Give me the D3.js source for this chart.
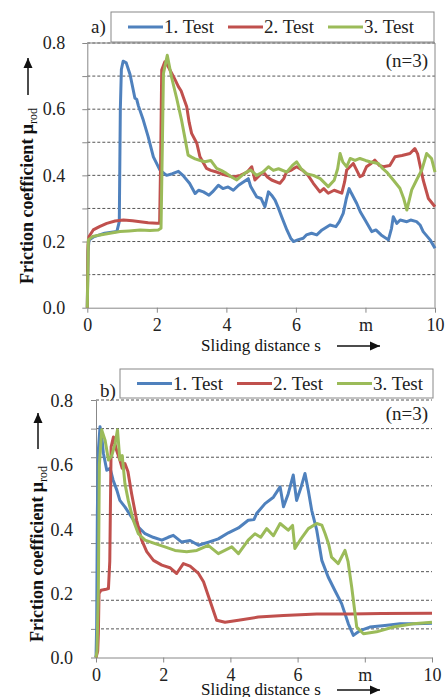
<!DOCTYPE html>
<html>
<head>
<meta charset="utf-8">
<script src="https://cdnjs.cloudflare.com/ajax/libs/d3/7.8.5/d3.min.js"></script>
</head>
<body style="margin:0">
<svg id="c" width="447" height="697" style="font-family:'Liberation Serif'"></svg>
<script>
// tick values / labels
var xTicks = [0, 2, 4, 6, 8, 10];
var xTickLabels = ["0", "2", "4", "6", "m", "10"];
var yLabelTicks = [0, 0.2, 0.4, 0.6, 0.8];
var gridTicksA = [0.1, 0.2, 0.3, 0.4, 0.5, 0.6, 0.7, 0.8];
var gridTicksB = [0.1, 0.2, 0.3, 0.4, 0.5, 0.6, 0.7, 0.8, 0.9];
var seriesNames = ["1. Test", "2. Test", "3. Test"];
var seriesColors = ["#4f81bd", "#c0504d", "#9bbb59"];

// panel a) [sliding distance m, friction coefficient]
var aTest1 = [[0,0],[0.02,0.17],[0.05,0.205],[0.2,0.215],[0.5,0.225],[0.85,0.23],[0.92,0.26],[0.95,0.6],[0.98,0.72],[1.03,0.745],[1.12,0.74],[1.23,0.705],[1.37,0.633],[1.42,0.63],[1.47,0.61],[1.61,0.567],[1.75,0.517],[1.9,0.456],[2.09,0.416],[2.28,0.40],[2.45,0.405],[2.62,0.412],[2.75,0.40],[2.94,0.376],[3.1,0.345],[3.2,0.355],[3.34,0.35],[3.5,0.34],[3.6,0.35],[3.77,0.37],[3.9,0.36],[4.05,0.365],[4.2,0.355],[4.35,0.37],[4.49,0.38],[4.63,0.39],[4.7,0.366],[4.87,0.335],[5.0,0.33],[5.11,0.305],[5.21,0.35],[5.3,0.34],[5.4,0.325],[5.5,0.30],[5.59,0.275],[5.74,0.235],[5.85,0.21],[5.93,0.2],[6.05,0.205],[6.21,0.21],[6.3,0.22],[6.45,0.225],[6.6,0.22],[6.75,0.235],[6.98,0.25],[7.15,0.245],[7.25,0.26],[7.36,0.285],[7.45,0.33],[7.53,0.36],[7.6,0.345],[7.75,0.315],[7.85,0.29],[7.99,0.265],[8.18,0.23],[8.3,0.235],[8.45,0.22],[8.66,0.205],[8.75,0.24],[8.8,0.275],[8.9,0.255],[9.0,0.265],[9.19,0.26],[9.3,0.265],[9.47,0.26],[9.57,0.25],[9.66,0.23],[9.86,0.205],[10,0.18]];
var aTest2 = [[0,0],[0.02,0.19],[0.05,0.215],[0.17,0.235],[0.35,0.245],[0.56,0.255],[0.8,0.262],[1.04,0.265],[1.3,0.263],[1.52,0.26],[1.75,0.257],[2.0,0.255],[2.08,0.255],[2.11,0.45],[2.14,0.718],[2.23,0.743],[2.32,0.73],[2.43,0.708],[2.52,0.69],[2.62,0.668],[2.7,0.655],[2.76,0.637],[2.86,0.607],[2.93,0.56],[3.0,0.527],[3.15,0.497],[3.24,0.456],[3.43,0.421],[3.55,0.415],[3.72,0.41],[3.85,0.405],[4.0,0.40],[4.2,0.395],[4.4,0.40],[4.6,0.41],[4.73,0.426],[4.82,0.386],[4.95,0.40],[5.06,0.41],[5.18,0.395],[5.3,0.386],[5.54,0.376],[5.65,0.39],[5.73,0.41],[5.85,0.415],[6.02,0.426],[6.2,0.415],[6.35,0.40],[6.5,0.376],[6.69,0.35],[6.8,0.36],[6.93,0.346],[7.1,0.355],[7.32,0.346],[7.4,0.38],[7.46,0.416],[7.65,0.436],[7.84,0.396],[7.92,0.40],[8.03,0.426],[8.15,0.435],[8.27,0.446],[8.4,0.43],[8.51,0.426],[8.7,0.43],[8.85,0.456],[9.05,0.46],[9.28,0.466],[9.42,0.481],[9.5,0.465],[9.57,0.43],[9.66,0.386],[9.81,0.33],[10,0.305]];
var aTest3 = [[0,0],[0.03,0.205],[0.15,0.215],[0.37,0.22],[0.65,0.225],[0.94,0.23],[1.2,0.232],[1.52,0.235],[1.8,0.233],[2.04,0.235],[2.12,0.24],[2.16,0.5],[2.19,0.708],[2.3,0.763],[2.42,0.698],[2.57,0.633],[2.71,0.567],[2.8,0.517],[2.9,0.461],[3.0,0.455],[3.1,0.45],[3.25,0.445],[3.38,0.441],[3.55,0.445],[3.72,0.421],[3.85,0.415],[4.0,0.406],[4.15,0.395],[4.3,0.386],[4.45,0.40],[4.58,0.41],[4.7,0.416],[4.87,0.40],[5.05,0.41],[5.21,0.426],[5.35,0.415],[5.5,0.42],[5.74,0.41],[5.9,0.43],[6.02,0.441],[6.15,0.42],[6.3,0.405],[6.5,0.40],[6.7,0.39],[6.93,0.366],[7.1,0.385],[7.2,0.42],[7.27,0.466],[7.35,0.44],[7.46,0.426],[7.56,0.451],[7.7,0.445],[7.84,0.451],[8.0,0.445],[8.13,0.441],[8.37,0.436],[8.5,0.42],[8.61,0.41],[8.8,0.386],[8.99,0.361],[9.1,0.33],[9.19,0.295],[9.33,0.356],[9.47,0.386],[9.62,0.416],[9.76,0.466],[9.9,0.451],[10,0.41]];

// panel b)
var bTest1 = [[0,0],[0.02,0.1],[0.04,0.45],[0.07,0.647],[0.12,0.72],[0.17,0.69],[0.22,0.637],[0.32,0.584],[0.42,0.59],[0.51,0.553],[0.62,0.522],[0.71,0.49],[0.86,0.47],[1.06,0.438],[1.26,0.407],[1.46,0.386],[1.7,0.375],[1.96,0.366],[2.15,0.375],[2.3,0.381],[2.55,0.36],[2.8,0.365],[3.05,0.35],[3.35,0.36],[3.64,0.37],[3.94,0.389],[4.24,0.404],[4.53,0.428],[4.7,0.43],[4.78,0.449],[5.03,0.48],[5.28,0.50],[5.48,0.532],[5.58,0.47],[5.72,0.51],[5.87,0.569],[5.97,0.49],[6.1,0.53],[6.22,0.574],[6.32,0.52],[6.42,0.459],[6.57,0.397],[6.72,0.303],[6.91,0.251],[7.11,0.209],[7.31,0.168],[7.51,0.105],[7.66,0.069],[7.86,0.084],[8.15,0.095],[8.6,0.10],[9.05,0.105],[9.5,0.105],[10,0.107]];
var bTest2 = [[0,0],[0.05,0.02],[0.07,0.074],[0.09,0.2],[0.15,0.21],[0.3,0.213],[0.37,0.215],[0.41,0.3],[0.45,0.657],[0.52,0.688],[0.6,0.65],[0.71,0.616],[0.78,0.59],[0.86,0.605],[0.95,0.58],[1.06,0.511],[1.21,0.428],[1.36,0.366],[1.51,0.33],[1.71,0.303],[1.96,0.288],[2.2,0.28],[2.4,0.262],[2.6,0.293],[2.8,0.285],[3.05,0.262],[3.2,0.236],[3.39,0.178],[3.59,0.116],[3.84,0.11],[4.24,0.116],[4.83,0.126],[5.58,0.131],[6.57,0.136],[7.56,0.136],[8.5,0.137],[10,0.138]];
var bTest3 = [[0,0],[0.03,0.02],[0.07,0.21],[0.1,0.6],[0.17,0.71],[0.27,0.678],[0.37,0.616],[0.47,0.63],[0.57,0.668],[0.64,0.71],[0.71,0.616],[0.78,0.63],[0.86,0.543],[0.96,0.49],[1.11,0.428],[1.26,0.386],[1.46,0.366],[1.76,0.355],[2.05,0.345],[2.35,0.334],[2.7,0.33],[3.0,0.334],[3.34,0.35],[3.64,0.324],[4.04,0.345],[4.24,0.324],[4.53,0.366],[4.73,0.386],[4.9,0.375],[5.08,0.402],[5.28,0.38],[5.48,0.418],[5.72,0.397],[5.85,0.412],[5.92,0.34],[6.1,0.37],[6.32,0.402],[6.57,0.418],[6.72,0.413],[6.82,0.386],[6.92,0.355],[7.01,0.313],[7.21,0.293],[7.41,0.334],[7.5,0.30],[7.61,0.22],[7.76,0.095],[7.96,0.074],[8.35,0.08],[8.85,0.095],[9.44,0.105],[10,0.11]];

var svg = d3.select("#c");

// every text goes through here so font and size are set inline
function txt(sel, size) {
    return sel.style("font-family", "'Liberation Serif'").style("font-size", size + "px");
}

/*
 *  One panel of the figure
 */
function drawPanel(p) {
    var x = d3.scaleLinear().domain([0, 10]).range([p.left, p.right]);
    var y = d3.scaleLinear().domain([0, 0.8]).range([p.bottom, p.top]);
    // the grid in panel b sits on its own spacing
    var yGrid = d3.scaleLinear().domain([0, p.gridMax]).range([p.bottom, p.gridTop]);

    var g = svg.append("g");

    // dashed grid lines
    g.selectAll(".grid").data(p.grid).enter().append("line")
        .attr("x1", p.left).attr("x2", p.right)
        .attr("y1", function(d) { return yGrid(d); })
        .attr("y2", function(d) { return yGrid(d); })
        .attr("stroke", "#555").attr("stroke-width", 1)
        .attr("stroke-dasharray", "3,2");

    // frame (panel a only)
    if (p.frame) {
        g.append("path")
            .attr("d", "M" + p.left + "," + p.top + "H" + p.right + "V" + p.bottom)
            .attr("fill", "none").attr("stroke", "#888");
    }

    // y tick stubs
    var yStub = g.append("g").attr("transform", "translate(" + p.left + ",0)")
        .call(d3.axisLeft(yGrid).tickValues([0].concat(p.grid)).tickSize(5).tickSizeOuter(0).tickFormat(""));
    yStub.select(".domain").attr("stroke", "#888");
    yStub.selectAll(".tick line").attr("stroke", "#888");

    // y tick labels
    var yLab = g.append("g").attr("transform", "translate(" + (p.left - 5) + ",0)")
        .call(d3.axisLeft(y).tickValues(yLabelTicks).tickSize(0).tickPadding(p.labelPad).tickFormat(d3.format(".1f")));
    yLab.select(".domain").remove();
    yLab.attr("font-family", null).attr("font-size", null);
    txt(yLab.selectAll("text"), 18).attr("fill", "#222");

    // x axis
    var xAx = g.append("g").attr("transform", "translate(0," + p.bottom + ")")
        .call(d3.axisBottom(x).tickValues(xTicks).tickSize(5).tickSizeOuter(0).tickPadding(6)
            .tickFormat(function(d, i) { return xTickLabels[i]; }));
    xAx.attr("font-family", null).attr("font-size", null);
    xAx.select(".domain").attr("stroke", "#888");
    xAx.selectAll(".tick line").attr("stroke", "#888");
    txt(xAx.selectAll("text"), 18).attr("fill", "#222");

    // data lines
    var line = d3.line()
        .x(function(d) { return x(d[0]); })
        .y(function(d) { return y(d[1]); });
    p.series.forEach(function(s, i) {
        g.append("path").datum(s)
            .attr("d", line)
            .attr("fill", "none")
            .attr("stroke", seriesColors[i])
            .attr("stroke-width", 3)
            .attr("stroke-linejoin", "round");
    });

    // legend
    g.append("rect")
        .attr("x", p.legend[0]).attr("y", p.legend[1])
        .attr("width", p.legend[2]).attr("height", p.legend[3])
        .attr("fill", "#fff").attr("stroke", "#888");
    seriesNames.forEach(function(name, i) {
        var lx = p.legend[0] + 17 + i * 100;
        var ly = p.legend[1] + p.legend[3] / 2;
        g.append("line")
            .attr("x1", lx).attr("x2", lx + 35).attr("y1", ly).attr("y2", ly)
            .attr("stroke", seriesColors[i]).attr("stroke-width", 3);
        txt(g.append("text"), 19)
            .attr("x", lx + 36).attr("y", ly + 6)
            .attr("fill", "#222")
            .text(name);
    });

    // panel letter
    txt(g.append("text"), 19).attr("x", p.letterPos[0]).attr("y", p.letterPos[1])
        .attr("fill", "#222").text(p.letter);

    // (n=3)
    txt(g.append("text"), 19).attr("x", 428).attr("y", p.top + p.nDy)
        .attr("text-anchor", "end").attr("fill", "#222")
        .text("(n=3)");

    // x axis title with arrow
    txt(g.append("text"), 17).attr("x", 261).attr("y", p.xTitleY)
        .attr("text-anchor", "middle").attr("fill", "#111")
        .text("Sliding distance s");
    arrow(g, 337, p.xTitleY - 5, 380, p.xTitleY - 5);

    // y axis title with arrow
    var yt = txt(g.append("text"), 18)
        .attr("transform", "translate(" + p.yTitleX + "," + p.yTitleMid + ") rotate(-90)")
        .attr("text-anchor", "middle")
        .style("font-weight", "bold").attr("fill", "#111");
    yt.append("tspan").text("Friction coefficient \u03bc");
    yt.append("tspan").style("font-size", "12px").style("font-weight", "normal").attr("dy", 4).text("rod");
    arrow(g, p.yTitleX - 5, p.yArrow[0], p.yTitleX - 5, p.yArrow[1]);
}

function arrow(g, x1, y1, x2, y2) {
    g.append("line").attr("x1", x1).attr("y1", y1).attr("x2", x2).attr("y2", y2)
        .attr("stroke", "#111").attr("stroke-width", 1.5);
    var a = Math.atan2(y2 - y1, x2 - x1);
    var len = 10, w = 4.5;
    var pts = [
        [x2, y2],
        [x2 - len * Math.cos(a) + w * Math.sin(a), y2 - len * Math.sin(a) - w * Math.cos(a)],
        [x2 - len * Math.cos(a) - w * Math.sin(a), y2 - len * Math.sin(a) + w * Math.cos(a)]
    ];
    g.append("polygon").attr("points", pts.map(function(p) { return p.join(","); }).join(" "))
        .attr("fill", "#111");
}

drawPanel({
    left: 87.3, right: 435, top: 43, bottom: 307.7,
    gridMax: 0.8, gridTop: 43, grid: gridTicksA, frame: true, labelPad: 17,
    series: [aTest1, aTest2, aTest3],
    legend: [111, 12, 323, 30], letter: "a)", letterPos: [91, 33], nDy: 24,
    xTitleY: 351, yTitleX: 33, yTitleMid: 196, yArrow: [95, 58]
});

drawPanel({
    left: 96, right: 432, top: 401, bottom: 657.5,
    gridMax: 0.9, gridTop: 400, grid: gridTicksB, frame: false, labelPad: 18,
    series: [bTest1, bTest2, bTest3],
    legend: [120, 369, 313, 29], letter: "b)", letterPos: [100, 397], nDy: 19,
    xTitleY: 695, yTitleX: 43, yTitleMid: 554, yArrow: [449, 413]
});
</script>
</body>
</html>
